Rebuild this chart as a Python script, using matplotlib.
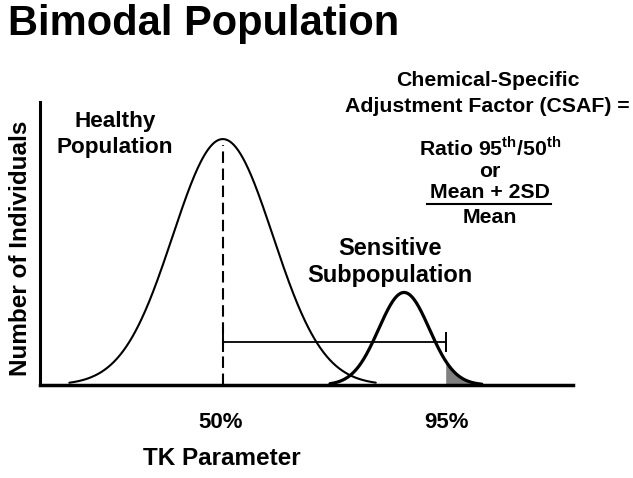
import numpy as np
import matplotlib.pyplot as plt
import matplotlib.transforms as mtransforms

# -----------------------------
# Data (arbitrary units 0-100)
# -----------------------------
groups = ["Healthy Population", "Sensitive Subpopulation"]
means = [34.3, 68.3]
sds = [9.4, 4.75]
peaks = [86.9, 32.7]
x_ranges = [(5.5, 63.0), (54.4, 82.9)]
z95 = 1.645
tick_labels = ["50%", "95%"]
bar_y = 15.3

plt.rcParams['font.family'] = ['Liberation Sans', 'DejaVu Sans']
plt.rcParams['font.weight'] = 'bold'
plt.rcParams['mathtext.fontset'] = 'custom'
plt.rcParams['mathtext.bf'] = 'Liberation Sans:bold'
plt.rcParams['mathtext.rm'] = 'Liberation Sans:bold'

W, H = 633, 478
fig = plt.figure(figsize=(W / 100, H / 100), dpi=100)


def fx(px):
    return px / W


def fy(py):
    return 1 - py / H


ax = fig.add_axes([fx(40), fy(385), fx(573) - fx(40), fy(102) - fy(385)])
ax.set_xlim(0, 100)
ax.set_ylim(0, 100)

# -----------------------------
# Curves
# -----------------------------
curves = []
for m, s, p, (a, b), lw in zip(means, sds, peaks, x_ranges, [1.5, 2.3]):
    x = np.linspace(a, b, 400)
    y = p * np.exp(-0.5 * ((x - m) / s) ** 2)
    ax.plot(x, y, color="black", lw=lw, solid_capstyle="round")
    curves.append((x, y))

# 95th percentile of the sensitive group, shaded tail
x95 = means[1] + z95 * sds[1]
xs, ys = curves[1]
mask = xs >= x95
ax.fill_between(xs[mask], 0, ys[mask], color="#808080", lw=0)

# dashed median line
ax.plot([means[0], means[0]], [0, peaks[0] - 2], color="black", lw=1.5,
        linestyle=(0, (5.5, 2.7)))

# bar from median to 95th
ax.plot([means[0], x95], [bar_y, bar_y], color="black", lw=1.3)
ax.plot([means[0], x95], [bar_y, bar_y], color="black", lw=0,
        marker="|", markersize=14, markeredgewidth=1.4)

# -----------------------------
# Axes styling
# -----------------------------
for side in ["top", "right"]:
    ax.spines[side].set_visible(False)
ax.spines["left"].set_linewidth(2.2)
ax.spines["bottom"].set_linewidth(2.5)
ax.set_xticks([])
ax.set_yticks([])

xtrans = mtransforms.blended_transform_factory(ax.transData, fig.transFigure)
for xv, lab in zip([means[0] - 0.4, x95 + 0.2], tick_labels):
    ax.text(xv, fy(428), lab, transform=xtrans, fontsize=16,
            fontweight="bold", ha="center", va="baseline")

ax.text(means[0] - 0.1, fy(465), "TK Parameter", transform=xtrans,
        fontsize=17.5, fontweight="bold", ha="center", va="baseline")
fig.text(fx(27), fy(248.5), "Number of Individuals", fontsize=17.5,
         fontweight="bold", rotation=90, rotation_mode="anchor",
         ha="center", va="baseline")

# -----------------------------
# Annotations
# -----------------------------
fig.text(fx(8), fy(35), "Bimodal Population", fontsize=30,
         fontweight="bold", ha="left", va="baseline")

fig.text(fx(115), fy(127), "Healthy", fontsize=16.2, fontweight="bold",
         ha="center", va="baseline")
fig.text(fx(115), fy(153), "Population", fontsize=16.2, fontweight="bold",
         ha="center", va="baseline")
fig.text(fx(390), fy(255), "Sensitive", fontsize=17, fontweight="bold",
         ha="center", va="baseline")
fig.text(fx(390), fy(281.7), "Subpopulation", fontsize=17,
         fontweight="bold", ha="center", va="baseline")

fs = 15.3
fig.text(fx(487.5), fy(85.5), "Chemical-Specific", fontsize=fs,
         fontweight="bold", ha="center", va="baseline")
fig.text(fx(487.5), fy(112), "Adjustment Factor (CSAF) =", fontsize=fs,
         fontweight="bold", ha="center", va="baseline")
fig.text(fx(490), fy(155.5), r"Ratio 95$^{\mathbf{th}}$/50$^{\mathbf{th}}$",
         fontsize=fs, fontweight="bold", ha="center", va="baseline")
fig.text(fx(490), fy(177), "or", fontsize=fs, fontweight="bold",
         ha="center", va="baseline")
num = fig.text(fx(489.5), fy(198), "Mean + 2SD", fontsize=fs,
               fontweight="bold", ha="center", va="baseline")
fig.text(fx(490), fy(223), "Mean", fontsize=fs, fontweight="bold",
         ha="center", va="baseline")

# underline under the numerator
fig.canvas.draw()
bb = num.get_window_extent(fig.canvas.get_renderer())
inv = fig.transFigure.inverted()
(x0, _), (x1, _) = inv.transform([(bb.x0, bb.y0), (bb.x1, bb.y1)])
fig.add_artist(plt.Line2D([x0 - 0.004, x1 + 0.003], [fy(204), fy(204)],
                          color="black", lw=1.5, transform=fig.transFigure))

fig.savefig("out.png", dpi=100)
